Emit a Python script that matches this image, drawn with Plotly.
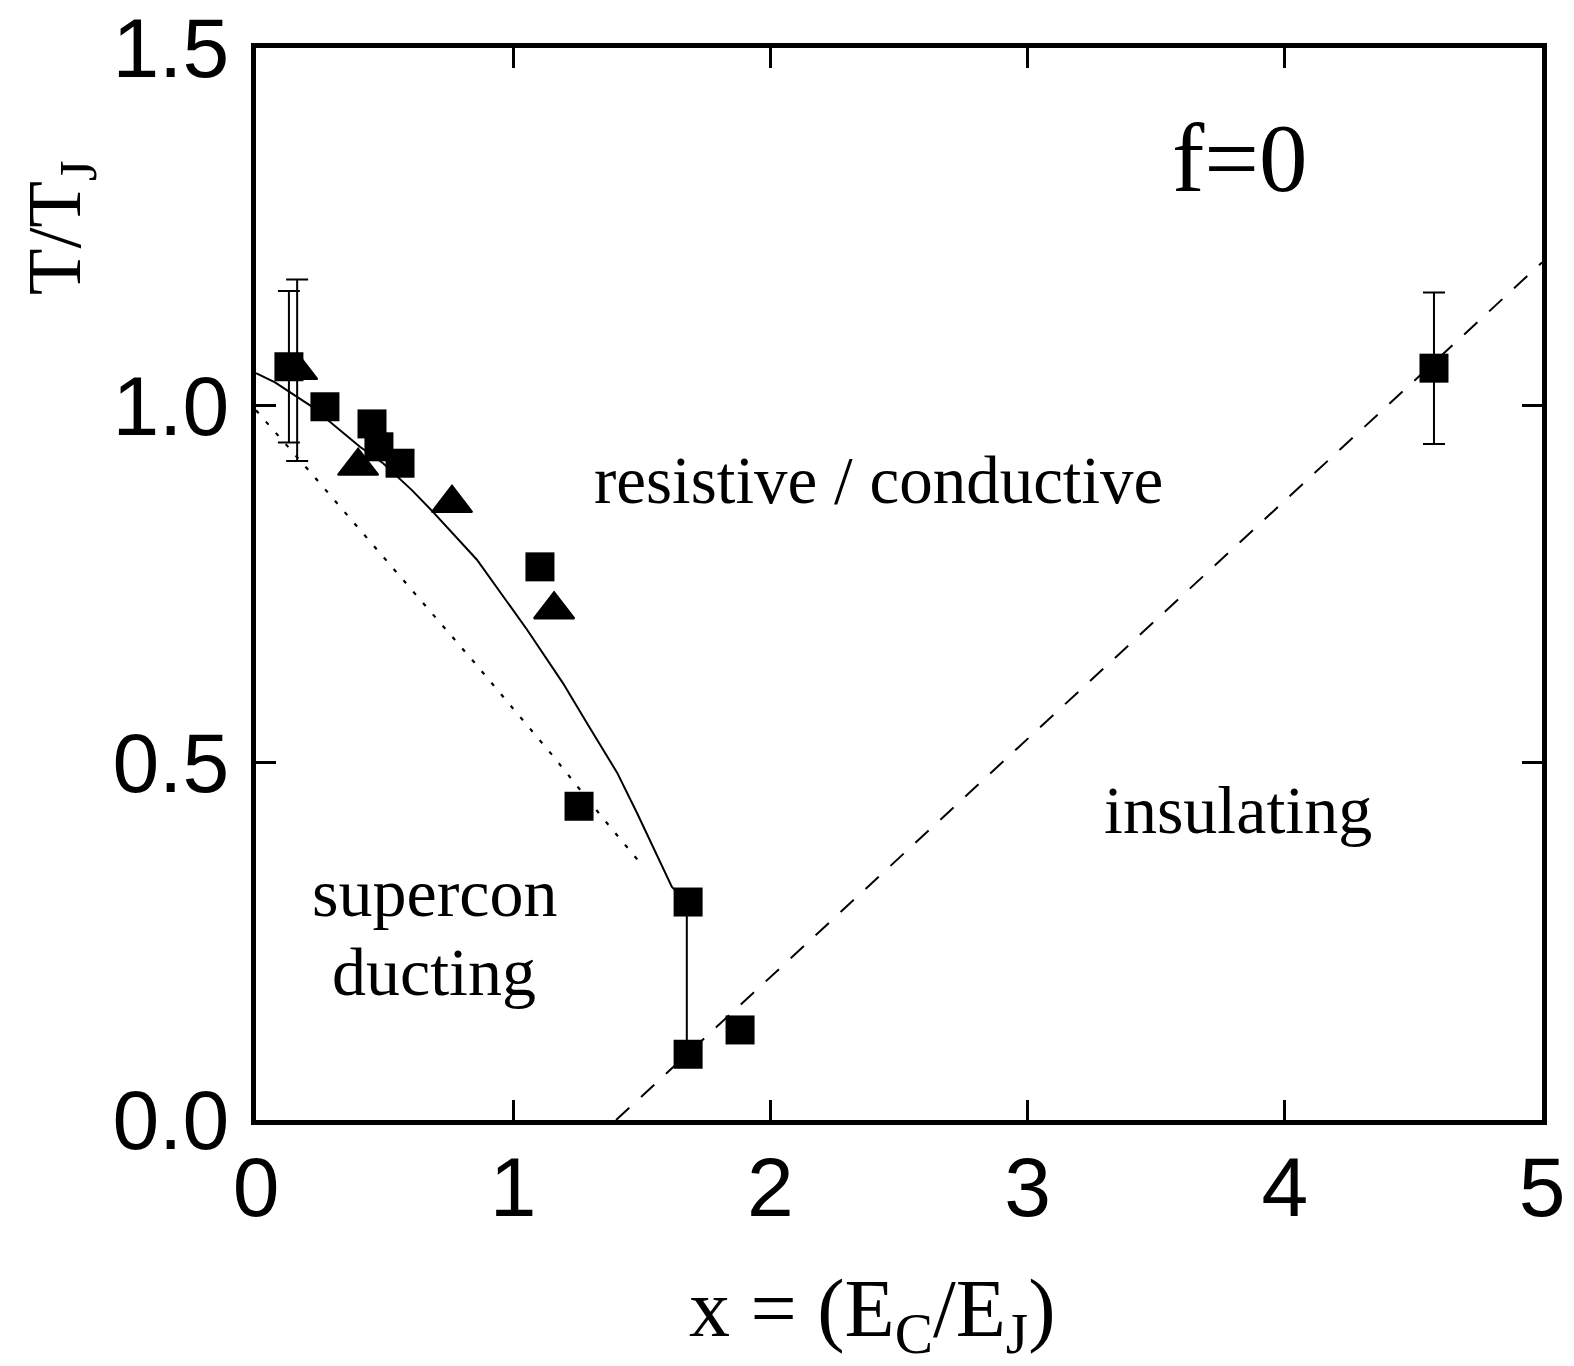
import plotly.graph_objects as go

# ---------------- data ----------------
square_x = [0.128, 0.268, 0.451, 0.478, 0.56, 1.104, 1.256, 1.68, 1.68, 1.882, 4.58]
square_y = [1.054, 0.998, 0.974, 0.942, 0.919, 0.774, 0.439, 0.305, 0.092, 0.126, 1.052]
square_err = [0.106, 0, 0, 0, 0, 0, 0, 0, 0, 0, 0.106]

triangle_x = [0.16, 0.397, 0.762, 1.159]
triangle_y = [1.049, 0.915, 0.863, 0.714]
triangle_err = [0.127, 0, 0, 0]

solid_x = [0.0, 0.074, 0.21, 0.288, 0.404, 0.494, 0.607, 0.688, 0.859, 1.054, 1.194,
           1.287, 1.404, 1.481, 1.617, 1.675, 1.675]
solid_y = [1.045, 1.032, 1.0, 0.977, 0.942, 0.919, 0.881, 0.851, 0.784, 0.686, 0.611,
           0.555, 0.486, 0.43, 0.326, 0.305, 0.092]

dotted_x = [0.0, 0.21, 0.521, 0.84, 1.151, 1.345, 1.50]
dotted_y = [0.993, 0.907, 0.777, 0.644, 0.511, 0.424, 0.357]

dashed_x = [1.4, 5.0]
dashed_y = [0.0, 1.2]

x_ticks = [0, 1, 2, 3, 4, 5]
y_ticks = [0.0, 0.5, 1.0, 1.5]
y_tick_text = ["0.0", "0.5", "1.0", "1.5"]

# ---------------- layout geometry ----------------
W, H = 1574, 1366
L, R, T, B = 256, 1542, 48, 1120

def px(xp):
    return (xp - L) / (R - L)

def py(yp):
    return (B - yp) / (B - T)

SERIF = "Liberation Serif, Times New Roman, serif"
SANS = "Liberation Sans, Arial, Helvetica, sans-serif"

fig = go.Figure()

fig.add_trace(go.Scatter(x=dashed_x, y=dashed_y, mode="lines",
                         line=dict(color="black", width=2, dash="18px,16px"),
                         showlegend=False, hoverinfo="skip"))
fig.add_trace(go.Scatter(x=dotted_x, y=dotted_y, mode="lines",
                         line=dict(color="black", width=2.2, dash="4px,11px"),
                         showlegend=False, hoverinfo="skip"))
fig.add_trace(go.Scatter(x=solid_x, y=solid_y, mode="lines",
                         line=dict(color="black", width=2),
                         showlegend=False, hoverinfo="skip"))

fig.add_trace(go.Scatter(x=square_x, y=square_y, mode="markers",
                         marker=dict(symbol="square", size=29, color="black"),
                         error_y=dict(type="data", array=square_err, visible=True,
                                      color="black", thickness=2, width=11),
                         showlegend=False))
fig.add_trace(go.Scatter(x=triangle_x, y=triangle_y, mode="markers",
                         marker=dict(symbol="triangle-up", size=35, color="black",
                                     line=dict(color="black", width=2)),
                         error_y=dict(type="data", array=triangle_err, visible=True,
                                      color="black", thickness=2, width=11),
                         showlegend=False))

axis_common = dict(showline=True, linecolor="black", linewidth=5, mirror="ticks",
                   ticks="inside", ticklen=20, tickwidth=3, tickcolor="black",
                   showgrid=False, zeroline=False, automargin=False,
                   tickfont=dict(family=SANS, size=84, color="black"))

fig.update_xaxes(range=[0, 5], tickvals=x_ticks, ticklabelstandoff=-10, **axis_common)
fig.update_yaxes(range=[0, 1.5], tickvals=y_ticks, ticktext=y_tick_text,
                 ticklabelstandoff=5, **axis_common)

annotations = [
    dict(text="f=0", x=px(1240), y=py(159), size=97),
    dict(text="resistive / conductive", x=px(878), y=py(480), size=67),
    dict(text="insulating", x=px(1238), y=py(810), size=68),
    dict(text="supercon", x=px(434), y=py(893), size=68),
    dict(text="ducting", x=px(434), y=py(972), size=68),
    dict(text="x = (E<sub>C</sub>/E<sub>J</sub>)", x=px(872), y=py(1314), size=82),
]
ann_list = []
for a in annotations:
    ann_list.append(dict(text=a["text"], x=a["x"], y=a["y"], xref="paper", yref="paper",
                         xanchor="center", yanchor="middle", showarrow=False,
                         font=dict(family=SERIF, size=a["size"], color="black")))
ann_list.append(dict(text="T/T<sub>J</sub>", x=px(60), y=py(228), xref="paper", yref="paper",
                     xanchor="center", yanchor="middle", showarrow=False, textangle=-90,
                     font=dict(family=SERIF, size=76, color="black")))

fig.update_layout(width=W, height=H,
                  margin=dict(l=L, r=W - R, t=T, b=H - B, pad=0, autoexpand=False),
                  paper_bgcolor="white", plot_bgcolor="white",
                  annotations=ann_list, showlegend=False)

fig.write_html("out.html")
